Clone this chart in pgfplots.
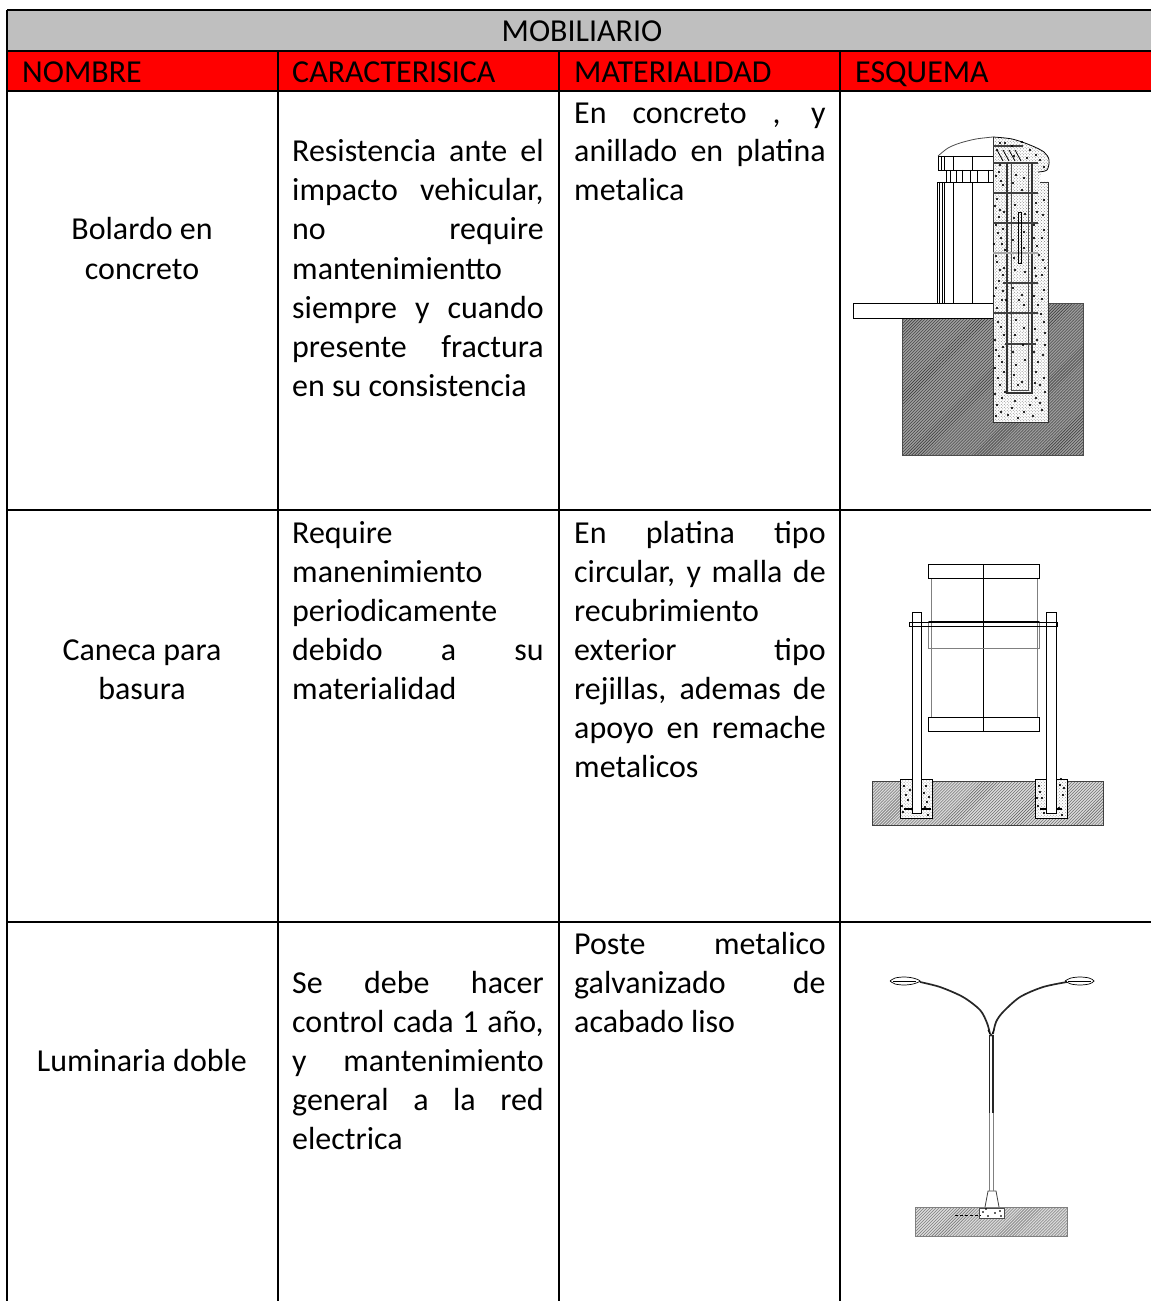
\documentclass[border=0pt]{standalone}
\usepackage{fontspec}
\setmainfont{Carlito}
\usepackage{pgfplots}
\pgfplotsset{compat=1.18}
\usetikzlibrary{patterns}
\definecolor{hdgray}{HTML}{BFBFBF}
\definecolor{hdred}{HTML}{FF0000}
\newcommand\pl[2][]{\addplot[black,line width=0.8bp,#1] coordinates {#2};}
\newcommand\grl[1]{\addplot[black,line width=1.5bp] coordinates {#1};}
\newcommand\area[2]{\addplot[#1,draw=none] coordinates {#2} -- cycle;}
\newcommand\jl[3]{\node[anchor=base west,inner sep=0pt,yshift=-0.8bp] at (axis cs:#1,#2) {\makebox[251.5bp][s]{#3}};}
\newcommand\lft[3]{\node[anchor=base west,inner sep=0pt,yshift=-0.8bp] at (axis cs:#1,#2) {#3};}
\newcommand\ctr[3]{\node[anchor=base,inner sep=0pt,yshift=-0.8bp] at (axis cs:#1,#2) {#3};}
\begin{document}
\begin{tikzpicture}
\begin{axis}[
  scale only axis, width=1151bp, height=1301bp,
  xmin=0, xmax=1151, ymin=0, ymax=1301, y dir=reverse,
  hide axis, clip=true,
  nodes={font=\fontsize{32.1}{39}\selectfont},
]
% page background, fixes the picture's extent
\area{fill=white}{(0,0) (1151,0) (1151,1301) (0,1301)}
% header fills
\area{fill=hdgray}{(7,10) (1151,10) (1151,51) (7,51)}
\area{fill=hdred}{(7,51) (1151,51) (1151,91) (7,91)}
% grid
\grl{(7,10) (1151,10)}
\grl{(7,51) (1151,51)}
\grl{(7,91) (1151,91)}
\grl{(7,510) (1151,510)}
\grl{(7,922) (1151,922)}
\grl{(7,10) (7,1301)}
\grl{(278,51) (278,1301)}
\grl{(559,51) (559,1301)}
\grl{(840,51) (840,1301)}
% header text
\ctr{582}{41}{MOBILIARIO}
\lft{22}{82}{NOMBRE}
\lft{292}{82}{CARACTERISICA}
\lft{574}{82}{MATERIALIDAD}
\lft{855}{82}{ESQUEMA}
% column 1
\ctr{142}{239}{Bolardo en}
\ctr{142}{279}{concreto}
\ctr{142}{660}{Caneca para}
\ctr{142}{699}{basura}
\ctr{142}{1071}{Luminaria doble}
% column 2
\jl{292}{161}{Resistencia ante el}
\jl{292}{200}{impacto vehicular,}
\jl{292}{239}{no require}
\lft{292}{279}{mantenimientto}
\jl{292}{318}{siempre y cuando}
\jl{292}{357}{presente fractura}
\lft{292}{396}{en su consistencia}
\lft{292}{543}{Require}
\lft{292}{582}{manenimiento}
\lft{292}{621}{periodicamente}
\jl{292}{660}{debido a su}
\lft{292}{699}{materialidad}
\jl{292}{993}{Se debe hacer}
\jl{292}{1032}{control cada 1 año,}
\jl{292}{1071}{y mantenimiento}
\jl{292}{1110}{general a la red}
\lft{292}{1149}{electrica}
% column 3
\jl{574}{123}{En concreto , y}
\jl{574}{161}{anillado en platina}
\lft{574}{200}{metalica}
\jl{574}{543}{En platina tipo}
\jl{574}{582}{circular, y malla de}
\lft{574}{621}{recubrimiento}
\jl{574}{660}{exterior tipo}
\jl{574}{699}{rejillas, ademas de}
\jl{574}{738}{apoyo en remache}
\lft{574}{777}{metalicos}
\jl{574}{954}{Poste metalico}
\jl{574}{993}{galvanizado de}
\lft{574}{1032}{acabado liso}

% ---- Bolardo ----
\area{fill=gray!78}{(902,318) (993,318) (993,422) (1047,422) (1047,303) (1083,303) (1083,455) (902,455)}
\area{pattern=north east lines,pattern color=black!80}{(902,318) (993,318) (993,422) (1047,422) (1047,303) (1083,303) (1083,455) (902,455)}
\pl[black!70]{(902,318) (902,455) (1083,455) (1083,303) (1047,303)}
\area{fill=white}{(993,137) (1010,139) (1030,145) (1044,152) (1049,160) (1047,170) (1041,172) (1040,182) (1048,182) (1048,422) (993,422)}
\area{pattern=crosshatch dots,pattern color=gray}{(993,137) (1010,139) (1030,145) (1044,152) (1049,160) (1047,170) (1041,172) (1040,182) (1048,182) (1048,422) (993,422)}
\addplot[only marks,mark=*,mark size=0.9bp,black] coordinates {
(997,150)(1005,143)(1014,156)(1030,150)(1040,160)(1044,167)(999,172)(1003,185)(997,199)(1004,212)(996,225)(1001,238)(1005,250)(997,262)(1003,275)(996,288)(1002,300)(998,322)(1004,335)(996,350)(1002,362)(998,378)(1005,392)(997,405)(1008,415)(1015,401)(1024,412)(1036,398)(1042,410)(1036,372)(1043,355)(1037,340)(1044,322)(1038,305)(1044,290)(1036,276)(1043,260)(1037,246)(1044,230)(1037,212)(1044,200)(1016,175)(1022,190)(1015,205)(1024,232)(1015,270)(1022,295)(1016,320)(1023,345)(1016,365)(1022,382)(1000,210)(1006,300)(1040,385)(1034,225)(1002,398)(1045,345)(1000,270)(1042,275)(1019,300)
(996,176)(1001,181)(995,206)(999,217)(1003,229)(998,233)(994,244)(1002,244)(996,256)(1004,268)(999,281)(994,296)(1003,291)(997,308)(1001,327)(995,340)(1003,347)(999,356)(995,368)(1004,372)(1000,385)(995,394)(1001,412)(996,416)(1012,408)(1018,418)(1030,405)(1033,416)(1040,403)(1045,392)(1035,383)(1044,378)(1038,362)(1034,352)(1045,333)(1035,329)(1041,314)(1034,296)(1042,299)(1035,268)(1045,268)(1039,255)(1034,238)(1042,238)(1036,203)(1043,215)(1013,183)(1024,178)(1014,218)(1025,214)(1013,240)(1024,248)(1014,258)(1025,272)(1013,288)(1024,305)(1015,335)(1024,328)(1013,352)(1025,360)(1014,375)(1018,385)(1000,143)(1012,146)(1022,142)(1036,155)(1027,158)(1000,165)};
\pl[black!80]{(993,137) (993,422) (1048,422) (1048,182) (1040,182)}
\pl[smooth]{(993,137) (1012,139) (1030,145) (1044,152) (1049,160) (1047,170) (1038,172)}
\pl[line width=2bp,gray!50!black]{(993,146) (1023,146)}
\pl[line width=2bp,gray!50!black]{(993,163) (1038,163)}
\pl{(997,150) (1003,161)}\pl{(1003,150) (1009,161)}\pl{(1009,150) (1015,161)}\pl{(1015,150) (1021,161)}
\pl[line width=1.2bp,black!80]{(1007,163) (1007,393) (1032,393) (1032,163)}
\pl[line width=1bp,black!70]{(1011,163) (1011,390) (1028,390) (1028,163)}
\pl[line width=2bp,gray!50!black]{(993,193) (1038,193)}
\pl[line width=2bp,gray!50!black]{(993,223) (1038,223)}
\pl[line width=2.5bp,gray!70]{(993,253) (1038,253)}
\pl[line width=2bp,gray!50!black]{(1003,283) (1038,283)}
\pl[line width=2bp,gray!50!black]{(993,313) (1038,313)}
\pl[line width=2bp,gray!50!black]{(1005,344) (1036,344)}
\pl{(1018,212) (1018,263) (1021,263) (1021,212) (1018,212)}
% left half
\pl{(853,303) (993,303)}
\pl{(853,303) (853,318) (993,318)}
\pl[smooth,black!70]{(938,156) (948,148) (960,143) (976,139) (993,137)}
\pl{(938,156) (938,170) (993,170)}
\pl{(938,156) (993,156)}
\pl{(941,156) (941,170)}\pl{(944,156) (944,170)}\pl{(953,156) (953,170)}\pl{(972,156) (972,170)}
\pl{(946,170) (946,182)}
\pl{(950,170) (950,182)}\pl{(956,170) (956,182)}\pl{(962,170) (962,182)}\pl{(970,170) (970,182)}\pl{(977,170) (977,182)}\pl{(988,170) (988,182)}
\pl{(937,303) (937,182) (993,182)}
\pl{(939,182) (939,303)}\pl{(942,182) (942,303)}\pl{(944,182) (944,303)}\pl{(953,182) (953,303)}\pl{(972,182) (972,303)}

% ---- Caneca ----
\area{fill=gray!30}{(872,781) (1103,781) (1103,825) (872,825)}
\area{pattern=north east lines,pattern color=black!65}{(872,781) (1103,781) (1103,825) (872,825)}
\pl[black!75]{(872,781) (1103,781) (1103,825) (872,825) (872,781)}
\area{fill=white}{(900,779) (932,779) (932,818) (900,818)}
\area{fill=white}{(1035,779) (1067,779) (1067,818) (1035,818)}
\area{pattern=crosshatch dots,pattern color=gray!80}{(900,779) (932,779) (932,818) (900,818)}
\area{pattern=crosshatch dots,pattern color=gray!80}{(1035,779) (1067,779) (1067,818) (1035,818)}
\addplot[only marks,mark=*,mark size=0.8bp,black] coordinates {
(904,786)(908,800)(903,812)(910,790)(906,795)(926,786)(929,797)(925,807)(928,815)(924,793)(1039,786)(1042,798)(1038,806)(1044,813)(1040,792)(1060,785)(1063,795)(1059,808)(1062,815)(1061,779)(902,806)(927,802)(1064,788)(1037,798)};
\pl{(900,779) (932,779) (932,818) (900,818) (900,779)}
\pl{(1035,779) (1067,779) (1067,818) (1035,818) (1035,779)}
\pl[gray,line width=1bp]{(931,578) (931,717)}
\pl[gray,line width=1bp]{(1037,578) (1037,717)}
\pl{(928,564) (1039,564) (1039,578) (928,578) (928,564)}
\pl{(983,564) (983,731)}
\pl{(928,621) (1039,621)}
\pl[gray,line width=1bp]{(1039,621) (1039,648) (928,648) (928,621)}
\pl{(928,717) (1039,717) (1039,731) (928,731) (928,717)}
\area{fill=white}{(912,813) (912,779) (921,779) (921,813)}
\area{fill=white}{(1046,813) (1046,779) (1056,779) (1056,813)}
\pl{(912,813) (912,612) (921,612) (921,813) (912,813)}
\pl{(1046,813) (1046,612) (1056,612) (1056,813) (1046,813)}
\pl{(909,622) (1057,622) (1057,626) (909,626) (909,622)}
\pl[line width=1.4bp]{(904,809) (912,809)}\pl[line width=1.4bp]{(921,809) (931,809)}
\pl[line width=1.4bp]{(1040,809) (1046,809)}\pl[line width=1.4bp]{(1056,809) (1062,809)}

% ---- Luminaria ----
\area{fill=gray!30}{(915,1207) (1067,1207) (1067,1236) (915,1236)}
\area{pattern=north east lines,pattern color=black!60}{(915,1207) (1067,1207) (1067,1236) (915,1236)}
\pl[gray]{(915,1207) (1067,1207) (1067,1236) (915,1236) (915,1207)}
\area{fill=white}{(979,1208) (1004,1208) (1004,1218) (979,1218)}
\pl[black!70]{(979,1208) (1004,1208) (1004,1218) (979,1218) (979,1208)}
\addplot[only marks,mark=*,mark size=0.6bp,black] coordinates {(983,1212)(988,1216)(995,1213)(1000,1211)(1001,1216)(986,1209)};
\pl[densely dashed]{(955,1215) (980,1215)}
\pl[black!75]{(985,1207) (988,1191) (996,1191) (999,1207)}
\pl[line width=1.5bp,gray]{(989.5,1191) (989.5,1113)}
\pl[line width=1.5bp,gray]{(993.5,1191) (993.5,1113)}
\pl[line width=1.2bp,black!85]{(989.5,1113) (989.5,1035)}
\pl[line width=1.6bp,black!85]{(993,1113) (993,1035)}
\pl[smooth,line width=1.7bp,black!85]{(990,1034) (987,1023) (980,1010) (963,997) (940,987) (920,982)}
\pl[smooth,line width=1.7bp,black!85]{(993,1034) (996,1022) (1003,1012) (1020,997) (1043,987) (1067,982)}
\pl{(988,1030) (991,1036) (994,1030)}
\pl[smooth,line width=0.7bp]{(890,981) (895,978) (904,977) (913,978) (920,981) (913,984) (904,985) (895,984) (890,981)}
\pl[smooth,line width=0.7bp]{(1065,981) (1071,978) (1080,977) (1089,978) (1094,981) (1089,984) (1080,985) (1071,984) (1065,981)}
\pl[line width=0.7bp]{(893,981) (916,981)}
\pl[line width=0.7bp]{(1068,981) (1091,981)}
\end{axis}
\end{tikzpicture}
\end{document}
